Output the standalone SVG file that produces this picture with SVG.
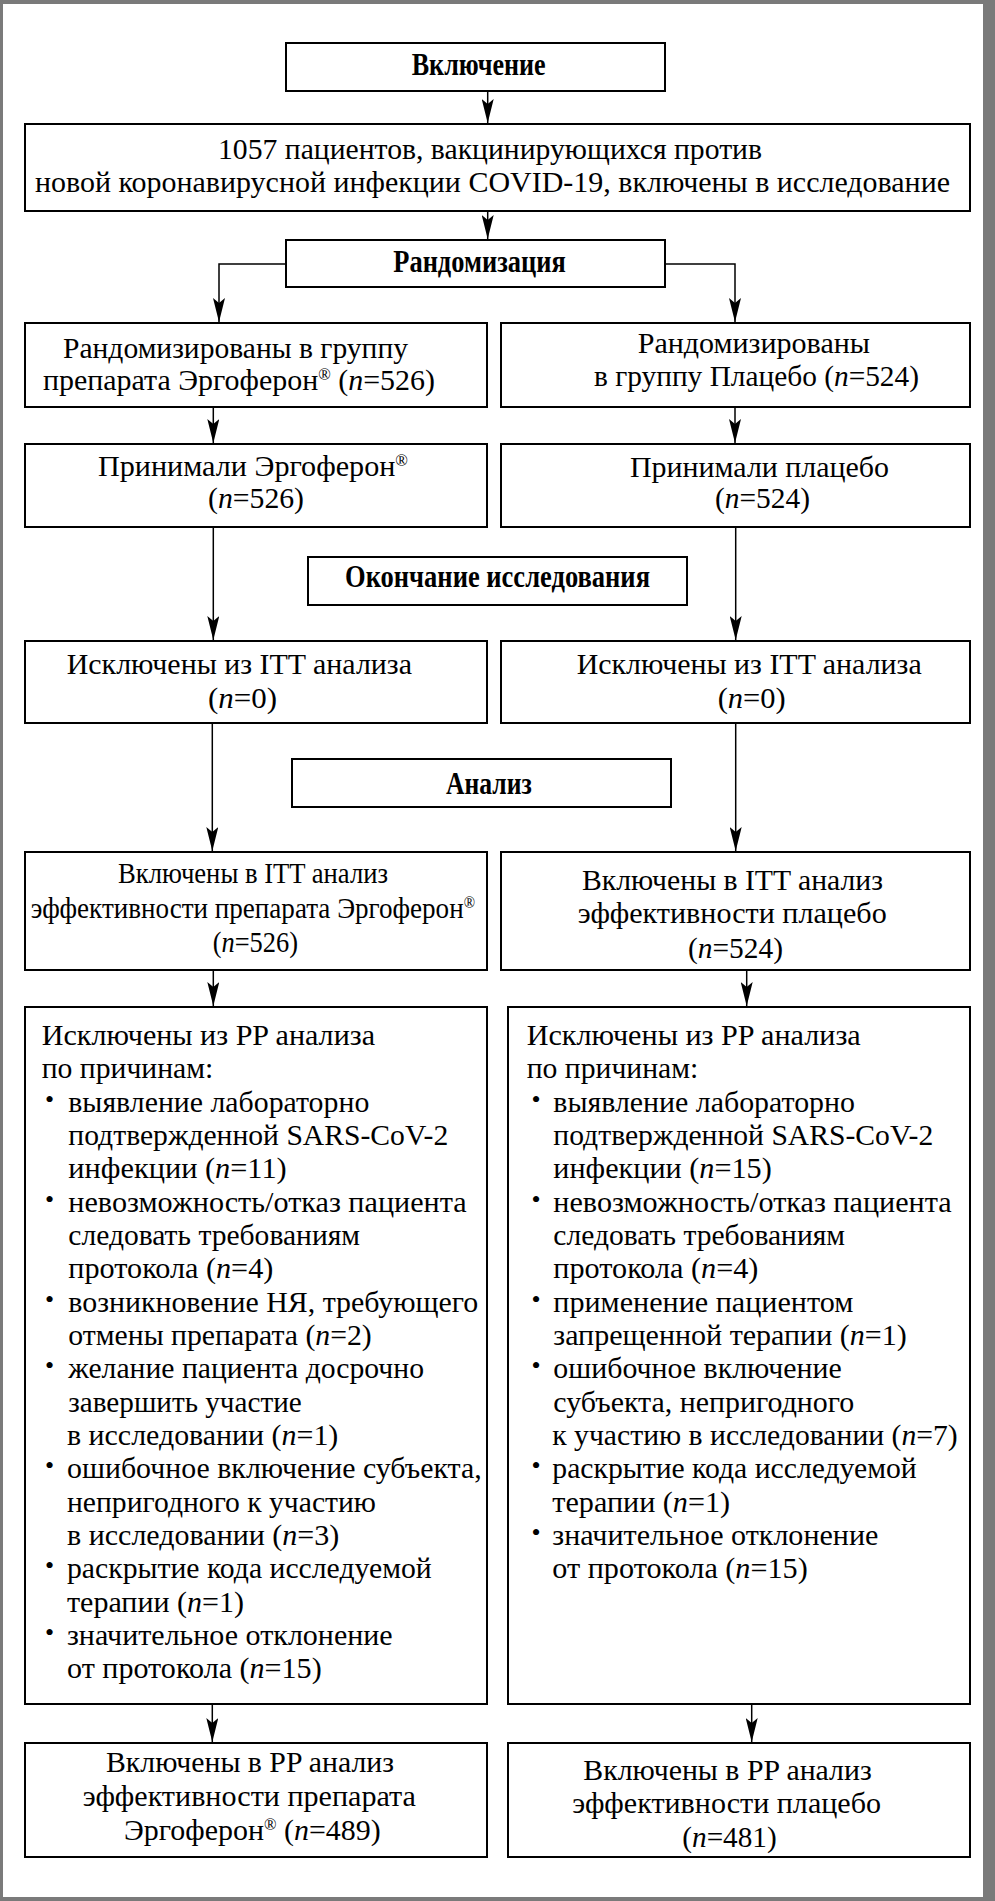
<svg xmlns="http://www.w3.org/2000/svg" width="995" height="1901" viewBox="0 0 995 1901">
<style>
.box{fill:#fff;stroke:#000;stroke-width:2}
.t{font-family:"Liberation Serif","Times New Roman",serif;font-size:29px;fill:#000}
.b{font-family:"Liberation Serif","Times New Roman",serif;font-size:31px;font-weight:bold;fill:#000}
.i{font-style:italic}
.r{font-size:16px}
.bu{font-family:"Liberation Serif","Times New Roman",serif;font-size:26px;fill:#000}
.c{stroke:#000;stroke-width:1.5;fill:none;marker-end:url(#ah)}
</style>
<defs>
<marker id="ah" markerUnits="userSpaceOnUse" viewBox="0 -6 24 12" refX="24" refY="0" markerWidth="24" markerHeight="12" orient="auto">
<path d="M0,-6 L24,0 L0,6 L5,0 z" fill="#000"/>
</marker>
</defs>
<rect x="0" y="0" width="995" height="1901" fill="#7a7a7a"/>
<rect x="3" y="4" width="980" height="1893" fill="#fff"/>

<g id="connectors">
<path class="c" d="M487.7,91 V123"/>
<path class="c" d="M487.7,211 V239"/>
<path class="c" d="M286,264 H219 V322"/>
<path class="c" d="M665,264 H735 V322"/>
<path class="c" d="M213.3,407 V443"/>
<path class="c" d="M735,407 V443"/>
<path class="c" d="M213.3,527 V640"/>
<path class="c" d="M735.7,527 V640"/>
<path class="c" d="M212.3,723 V851"/>
<path class="c" d="M735.7,723 V851"/>
<path class="c" d="M213.3,970 V1006"/>
<path class="c" d="M746.7,970 V1006"/>
<path class="c" d="M212.3,1704 V1742"/>
<path class="c" d="M751.7,1704 V1742"/>
</g>

<g id="n-inclusion">
<rect class="box" x="286" y="43" width="379" height="48"/>
<text class="b" x="411.7" y="75" textLength="134" lengthAdjust="spacingAndGlyphs">Включение</text>
</g>

<g id="n-enrolled">
<rect class="box" x="25" y="124" width="945" height="87"/>
<text class="t" x="218" y="159" textLength="544" lengthAdjust="spacingAndGlyphs">1057 пациентов, вакцинирующихся против</text>
<text class="t" x="35" y="192" textLength="915" lengthAdjust="spacingAndGlyphs">новой коронавирусной инфекции COVID-19, включены в исследование</text>
</g>

<g id="n-randomization">
<rect class="box" x="286" y="240" width="379" height="47"/>
<text class="b" x="393.3" y="272" textLength="172.4" lengthAdjust="spacingAndGlyphs">Рандомизация</text>
</g>

<g id="n-rand-ergoferon">
<rect class="box" x="25" y="323" width="462" height="84"/>
<text class="t" x="63" y="358" textLength="345" lengthAdjust="spacingAndGlyphs">Рандомизированы в группу</text>
<text class="t" x="43" y="390" textLength="392" lengthAdjust="spacingAndGlyphs">препарата Эргоферон<tspan class="r" dy="-10">®</tspan><tspan dy="10"> (</tspan><tspan class="i">n</tspan>=526)</text>
</g>

<g id="n-rand-placebo">
<rect class="box" x="501" y="323" width="469" height="84"/>
<text class="t" x="637.7" y="353" textLength="232.3" lengthAdjust="spacingAndGlyphs">Рандомизированы</text>
<text class="t" x="594" y="386" textLength="325" lengthAdjust="spacingAndGlyphs">в группу Плацебо (<tspan class="i">n</tspan>=524)</text>
</g>

<g id="n-took-ergoferon">
<rect class="box" x="25" y="444" width="462" height="83"/>
<text class="t" x="98" y="476" textLength="310" lengthAdjust="spacingAndGlyphs">Принимали Эргоферон<tspan class="r" dy="-10">®</tspan></text>
<text class="t" x="208" y="508" textLength="96" lengthAdjust="spacingAndGlyphs">(<tspan class="i">n</tspan>=526)</text>
</g>

<g id="n-took-placebo">
<rect class="box" x="501" y="444" width="469" height="83"/>
<text class="t" x="630" y="477" textLength="259" lengthAdjust="spacingAndGlyphs">Принимали плацебо</text>
<text class="t" x="715" y="508" textLength="95" lengthAdjust="spacingAndGlyphs">(<tspan class="i">n</tspan>=524)</text>
</g>

<g id="n-end-of-study">
<rect class="box" x="308" y="557" width="379" height="48"/>
<text class="b" x="345" y="587" textLength="305" lengthAdjust="spacingAndGlyphs">Окончание исследования</text>
</g>

<g id="n-excl-itt-ergoferon">
<rect class="box" x="25" y="641" width="462" height="82"/>
<text class="t" x="66.7" y="674" textLength="345.3" lengthAdjust="spacingAndGlyphs">Исключены из ITT анализа</text>
<text class="t" x="208" y="708" textLength="69" lengthAdjust="spacingAndGlyphs">(<tspan class="i">n</tspan>=0)</text>
</g>

<g id="n-excl-itt-placebo">
<rect class="box" x="501" y="641" width="469" height="82"/>
<text class="t" x="576.7" y="674" textLength="345" lengthAdjust="spacingAndGlyphs">Исключены из ITT анализа</text>
<text class="t" x="717.7" y="708" textLength="68" lengthAdjust="spacingAndGlyphs">(<tspan class="i">n</tspan>=0)</text>
</g>

<g id="n-analysis">
<rect class="box" x="292" y="759" width="379" height="48"/>
<text class="b" x="446" y="794" textLength="85.7" lengthAdjust="spacingAndGlyphs">Анализ</text>
</g>

<g id="n-itt-ergoferon">
<rect class="box" x="25" y="852" width="462" height="118"/>
<text class="t" x="118" y="883" textLength="270" lengthAdjust="spacingAndGlyphs">Включены в ITT анализ</text>
<text class="t" x="30.7" y="918" textLength="444.3" lengthAdjust="spacingAndGlyphs">эффективности препарата Эргоферон<tspan class="r" dy="-10">®</tspan></text>
<text class="t" x="212.7" y="952" textLength="85.3" lengthAdjust="spacingAndGlyphs">(<tspan class="i">n</tspan>=526)</text>
</g>

<g id="n-itt-placebo">
<rect class="box" x="501" y="852" width="469" height="118"/>
<text class="t" x="582" y="890" textLength="301" lengthAdjust="spacingAndGlyphs">Включены в ITT анализ</text>
<text class="t" x="577.7" y="923" textLength="309" lengthAdjust="spacingAndGlyphs">эффективности плацебо</text>
<text class="t" x="688" y="958" textLength="95" lengthAdjust="spacingAndGlyphs">(<tspan class="i">n</tspan>=524)</text>
</g>

<g id="n-excl-pp-ergoferon">
<rect class="box" x="25" y="1007" width="462" height="697"/>
<text class="t" x="41.7" y="1045" textLength="333.3" lengthAdjust="spacingAndGlyphs">Исключены из PP анализа</text>
<text class="t" x="41.7" y="1078.3" textLength="171.6" lengthAdjust="spacingAndGlyphs">по причинам:</text>
<text class="bu" x="45" y="1107.7">•</text>
<text class="t" x="68.3" y="1111.7" textLength="301" lengthAdjust="spacingAndGlyphs">выявление лабораторно</text>
<text class="t" x="68.3" y="1145" textLength="380" lengthAdjust="spacingAndGlyphs">подтвержденной SARS-CoV-2</text>
<text class="t" x="68.3" y="1178.3" textLength="218.4" lengthAdjust="spacingAndGlyphs">инфекции (<tspan class="i">n</tspan>=11)</text>
<text class="bu" x="45" y="1207.7">•</text>
<text class="t" x="68.3" y="1211.7" textLength="398.4" lengthAdjust="spacingAndGlyphs">невозможность/отказ пациента</text>
<text class="t" x="68.3" y="1245" textLength="291.7" lengthAdjust="spacingAndGlyphs">следовать требованиям</text>
<text class="t" x="68.3" y="1278.3" textLength="205" lengthAdjust="spacingAndGlyphs">протокола (<tspan class="i">n</tspan>=4)</text>
<text class="bu" x="45" y="1307.7">•</text>
<text class="t" x="68.3" y="1311.7" textLength="410" lengthAdjust="spacingAndGlyphs">возникновение НЯ, требующего</text>
<text class="t" x="68.3" y="1345" textLength="303.4" lengthAdjust="spacingAndGlyphs">отмены препарата (<tspan class="i">n</tspan>=2)</text>
<text class="bu" x="45" y="1374.3">•</text>
<text class="t" x="68.3" y="1378.3" textLength="355.7" lengthAdjust="spacingAndGlyphs">желание пациента досрочно</text>
<text class="t" x="68.3" y="1411.7" textLength="233.4" lengthAdjust="spacingAndGlyphs">завершить участие</text>
<text class="t" x="67" y="1445" textLength="271.3" lengthAdjust="spacingAndGlyphs">в исследовании (<tspan class="i">n</tspan>=1)</text>
<text class="bu" x="45" y="1474.3">•</text>
<text class="t" x="67" y="1478.3" textLength="414.7" lengthAdjust="spacingAndGlyphs">ошибочное включение субъекта,</text>
<text class="t" x="67" y="1511.7" textLength="309" lengthAdjust="spacingAndGlyphs">непригодного к участию</text>
<text class="t" x="67" y="1545" textLength="272.3" lengthAdjust="spacingAndGlyphs">в исследовании (<tspan class="i">n</tspan>=3)</text>
<text class="bu" x="45" y="1574.3">•</text>
<text class="t" x="67" y="1578.3" textLength="364.7" lengthAdjust="spacingAndGlyphs">раскрытие кода исследуемой</text>
<text class="t" x="67" y="1611.7" textLength="177" lengthAdjust="spacingAndGlyphs">терапии (<tspan class="i">n</tspan>=1)</text>
<text class="bu" x="45" y="1641">•</text>
<text class="t" x="67" y="1645" textLength="325.7" lengthAdjust="spacingAndGlyphs">значительное отклонение</text>
<text class="t" x="67" y="1678.3" textLength="254.7" lengthAdjust="spacingAndGlyphs">от протокола (<tspan class="i">n</tspan>=15)</text>
</g>

<g id="n-excl-pp-placebo">
<rect class="box" x="508" y="1007" width="462" height="697"/>
<text class="t" x="526.7" y="1045" textLength="334" lengthAdjust="spacingAndGlyphs">Исключены из PP анализа</text>
<text class="t" x="526.7" y="1078.3" textLength="171.6" lengthAdjust="spacingAndGlyphs">по причинам:</text>
<text class="bu" x="531.5" y="1107.7">•</text>
<text class="t" x="553.3" y="1111.7" textLength="301.7" lengthAdjust="spacingAndGlyphs">выявление лабораторно</text>
<text class="t" x="553.3" y="1145" textLength="380" lengthAdjust="spacingAndGlyphs">подтвержденной SARS-CoV-2</text>
<text class="t" x="553.3" y="1178.3" textLength="218.4" lengthAdjust="spacingAndGlyphs">инфекции (<tspan class="i">n</tspan>=15)</text>
<text class="bu" x="531.5" y="1207.7">•</text>
<text class="t" x="553.3" y="1211.7" textLength="398.4" lengthAdjust="spacingAndGlyphs">невозможность/отказ пациента</text>
<text class="t" x="553.3" y="1245" textLength="291.7" lengthAdjust="spacingAndGlyphs">следовать требованиям</text>
<text class="t" x="553.3" y="1278.3" textLength="205" lengthAdjust="spacingAndGlyphs">протокола (<tspan class="i">n</tspan>=4)</text>
<text class="bu" x="531.5" y="1307.7">•</text>
<text class="t" x="553.3" y="1311.7" textLength="300" lengthAdjust="spacingAndGlyphs">применение пациентом</text>
<text class="t" x="553.3" y="1345" textLength="353.4" lengthAdjust="spacingAndGlyphs">запрещенной терапии (<tspan class="i">n</tspan>=1)</text>
<text class="bu" x="531.5" y="1374.3">•</text>
<text class="t" x="553.3" y="1378.3" textLength="288.4" lengthAdjust="spacingAndGlyphs">ошибочное включение</text>
<text class="t" x="553.3" y="1411.7" textLength="301" lengthAdjust="spacingAndGlyphs">субъекта, непригодного</text>
<text class="t" x="552.3" y="1445" textLength="405.4" lengthAdjust="spacingAndGlyphs">к участию в исследовании (<tspan class="i">n</tspan>=7)</text>
<text class="bu" x="531.5" y="1474.3">•</text>
<text class="t" x="552.3" y="1478.3" textLength="364.4" lengthAdjust="spacingAndGlyphs">раскрытие кода исследуемой</text>
<text class="t" x="552.3" y="1511.7" textLength="177.7" lengthAdjust="spacingAndGlyphs">терапии (<tspan class="i">n</tspan>=1)</text>
<text class="bu" x="531.5" y="1541">•</text>
<text class="t" x="552.3" y="1545" textLength="326" lengthAdjust="spacingAndGlyphs">значительное отклонение</text>
<text class="t" x="552.3" y="1578.3" textLength="255.4" lengthAdjust="spacingAndGlyphs">от протокола (<tspan class="i">n</tspan>=15)</text>
</g>

<g id="n-pp-ergoferon">
<rect class="box" x="25" y="1743" width="462" height="114"/>
<text class="t" x="106" y="1772" textLength="288" lengthAdjust="spacingAndGlyphs">Включены в PP анализ</text>
<text class="t" x="82.7" y="1806" textLength="333.3" lengthAdjust="spacingAndGlyphs">эффективности препарата</text>
<text class="t" x="124" y="1840" textLength="256.7" lengthAdjust="spacingAndGlyphs">Эргоферон<tspan class="r" dy="-10">®</tspan><tspan dy="10"> (</tspan><tspan class="i">n</tspan>=489)</text>
</g>

<g id="n-pp-placebo">
<rect class="box" x="508" y="1743" width="462" height="114"/>
<text class="t" x="583.3" y="1780" textLength="288.4" lengthAdjust="spacingAndGlyphs">Включены в PP анализ</text>
<text class="t" x="572.3" y="1813" textLength="308.7" lengthAdjust="spacingAndGlyphs">эффективности плацебо</text>
<text class="t" x="682.3" y="1847" textLength="94.4" lengthAdjust="spacingAndGlyphs">(<tspan class="i">n</tspan>=481)</text>
</g>
</svg>
